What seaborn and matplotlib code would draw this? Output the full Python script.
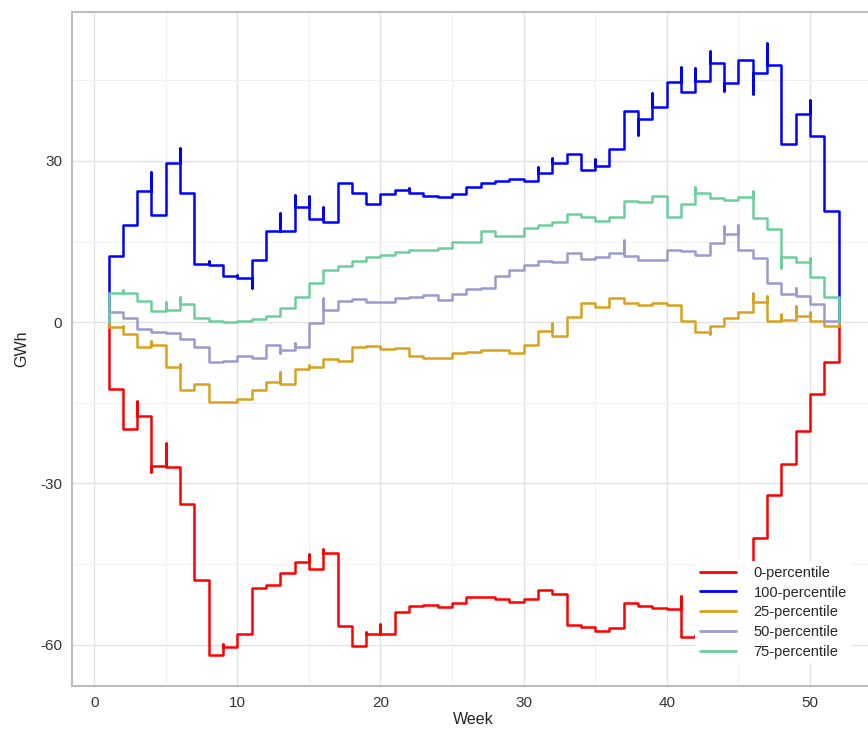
import numpy as np
import pandas as pd
import matplotlib
matplotlib.use('Agg')
import matplotlib.pyplot as plt
from matplotlib.ticker import MultipleLocator
import seaborn as sns

# weekly values (GWh), weeks 1..52
weeks = list(range(1, 53))

p0 = [-12.5, -19.8, -17.4, -26.8, -27.0, -33.8, -48.0, -62.0, -60.4, -58.1,
      -49.5, -49.0, -46.7, -44.6, -45.9, -42.9, -56.6, -60.3, -58.0, -58.0,
      -53.9, -52.9, -52.7, -53.0, -52.3, -51.2, -51.2, -51.5, -52.0, -51.5,
      -49.8, -50.6, -56.4, -56.8, -57.4, -57.0, -52.3, -52.8, -53.1, -53.3,
      -58.5, -58.3, -57.5, -55.5, -46.5, -40.1, -32.2, -26.4, -20.2, -13.3,
      -7.5, 0.0]
p100 = [12.3, 18.0, 24.4, 20.0, 29.6, 24.0, 10.9, 10.7, 8.6, 8.3,
        11.5, 17.0, 17.0, 21.4, 19.2, 18.7, 25.8, 24.1, 21.9, 23.8,
        24.5, 24.1, 23.5, 23.3, 23.8, 25.1, 25.9, 26.3, 26.7, 26.3,
        27.8, 29.6, 31.2, 28.3, 29.0, 32.3, 39.2, 37.7, 40.0, 44.6,
        42.8, 44.9, 48.3, 44.4, 48.8, 46.4, 47.8, 33.2, 38.8, 34.6,
        20.7, 0.0]
p25 = [-0.9, -2.3, -4.7, -4.2, -8.4, -12.7, -11.6, -14.9, -14.9, -14.3,
       -12.7, -11.2, -11.6, -8.7, -8.4, -6.9, -7.2, -4.7, -4.4, -5.0,
       -4.9, -6.3, -6.7, -6.6, -5.8, -5.5, -5.1, -5.1, -5.8, -4.2,
       -1.6, -2.6, 0.9, 3.6, 2.8, 4.4, 3.6, 3.25, 3.6, 3.1,
       0.2, -1.75, -0.75, 0.75, 1.9, 3.75, 0.3, 0.45, 1.1, 0.2,
       -0.75, 0.0]
p50 = [1.9, 0.7, -1.35, -1.8, -2.0, -3.2, -4.7, -7.5, -7.3, -6.3,
       -6.6, -4.2, -5.2, -4.6, -0.1, 2.2, 4.0, 4.3, 3.7, 3.75,
       4.5, 4.6, 5.0, 4.2, 5.3, 6.2, 6.4, 8.6, 9.7, 10.6,
       11.4, 11.25, 12.8, 11.75, 12.1, 12.8, 12.3, 11.6, 11.6, 13.4,
       13.3, 12.5, 14.8, 16.4, 13.4, 11.9, 7.2, 5.3, 4.8, 3.4,
       0.3, 0.0]
p75 = [5.4, 5.4, 3.9, 2.0, 2.3, 3.3, 0.7, 0.3, 0.0, 0.2,
       0.5, 1.1, 2.6, 4.6, 7.3, 9.7, 10.5, 11.4, 12.2, 12.5,
       13.0, 13.4, 13.4, 13.8, 14.9, 15.0, 17.0, 16.1, 16.1, 17.5,
       18.1, 18.6, 20.2, 19.6, 18.9, 19.5, 22.5, 22.4, 23.4, 19.6,
       22.0, 24.1, 23.1, 22.7, 23.3, 19.4, 17.3, 12.1, 11.1, 8.4,
       4.7, 0.0]

# short extremes at the start of a week (week: GWh)
spikes0 = {1: 0.0, 3: -14.7, 4: -27.9, 5: -22.5, 9: -59.8, 15: -43.2, 16: -42.2,
           19: -57.6, 20: -56.2, 41: -50.9}
spikes100 = {1: 0.0, 4: 28.0, 6: 32.4, 8: 11.4, 10: 8.8, 11: 6.4, 13: 20.3, 14: 23.7,
             15: 23.4, 16: 21.4, 22: 24.9, 31: 28.8, 32: 30.6, 35: 30.4, 38: 34.8,
             39: 42.6, 41: 47.5, 42: 47.2, 43: 50.4, 44: 43.0, 46: 42.5, 47: 51.9,
             50: 41.3}
spikes25 = {1: 0.0, 2: -0.75, 4: -3.5, 6: -7.7, 13: -9.3, 15: -8.0, 32: -0.2,
            42: -1.9, 43: -2.2, 46: 5.4, 47: 4.8, 48: 1.6, 49: 3.0, 50: 1.9}
spikes50 = {1: 0.0, 13: -5.7, 14: -3.8, 16: 4.4, 37: 15.2, 44: 17.8, 45: 18.0, 49: 6.4}
spikes75 = {1: 0.0, 2: 5.9, 5: 3.7, 6: 4.6, 42: 25.2, 46: 24.4, 48: 10.0, 50: 11.9}

series = ['0-percentile', '100-percentile', '25-percentile', '50-percentile', '75-percentile']
values = [p0, p100, p25, p50, p75]
spikes = [spikes0, spikes100, spikes25, spikes50, spikes75]
colors = ['#FF0000', '#0000FF', '#D9A21E', '#9B9BCF', '#6CCF9C']

rows = []
for name, vals, sp in zip(series, values, spikes):
    for w, v in zip(weeks, vals):
        if w in sp:
            rows.append((w, sp[w], name))
        rows.append((w, v, name))
df = pd.DataFrame(rows, columns=['Week', 'GWh', 'series'])

sns.set_style('whitegrid')
plt.rcParams['font.family'] = ['Liberation Sans', 'DejaVu Sans']
plt.rcParams['axes.unicode_minus'] = False

fig = plt.figure(figsize=(8.68, 7.34), dpi=100)
ax = fig.add_axes([72 / 868, 48 / 734, 803 / 868, 674 / 734])

sns.lineplot(data=df, x='Week', y='GWh', hue='series', hue_order=series,
             palette=colors, estimator=None, sort=False,
             drawstyle='steps-post', lw=1.8, ax=ax)

ax.set_xlim(-1.55, 54.55)
ax.set_ylim(-67.7, 57.7)
ax.xaxis.set_major_locator(MultipleLocator(10))
ax.xaxis.set_minor_locator(MultipleLocator(5))
ax.set_yticks([-60, -30, 0, 30])
ax.yaxis.set_minor_locator(MultipleLocator(15))
ax.grid(which='major', color='#E3E3E3', lw=1.0)
ax.grid(which='minor', color='#F2F2F2', lw=0.8)
ax.set_axisbelow(True)
for s in ax.spines.values():
    s.set_color('#BDBDBD')
    s.set_linewidth(1.5)
ax.tick_params(axis='both', which='major', length=4, width=1, color='#BDBDBD',
               labelsize=11, labelcolor='#333333', pad=3)
ax.tick_params(which='minor', length=0)
ax.set_xlabel('Week', fontsize=11.5, labelpad=2)
ax.set_ylabel('GWh', fontsize=11.5, labelpad=8)

handles, labels = ax.get_legend_handles_labels()
leg = ax.legend(handles, labels, loc='upper left', bbox_to_anchor=(688 / 868, 1 - 554 / 734),
                bbox_transform=fig.transFigure, frameon=True, fontsize=10.5,
                handlelength=2.5, handletextpad=1.2, labelspacing=0.4,
                borderpad=0.3, fancybox=False)
leg.get_frame().set_facecolor('white')
leg.get_frame().set_edgecolor('none')
leg.get_frame().set_alpha(1)
for line in leg.get_lines():
    line.set_linewidth(2.0)

fig.savefig('out.png', dpi=100)
